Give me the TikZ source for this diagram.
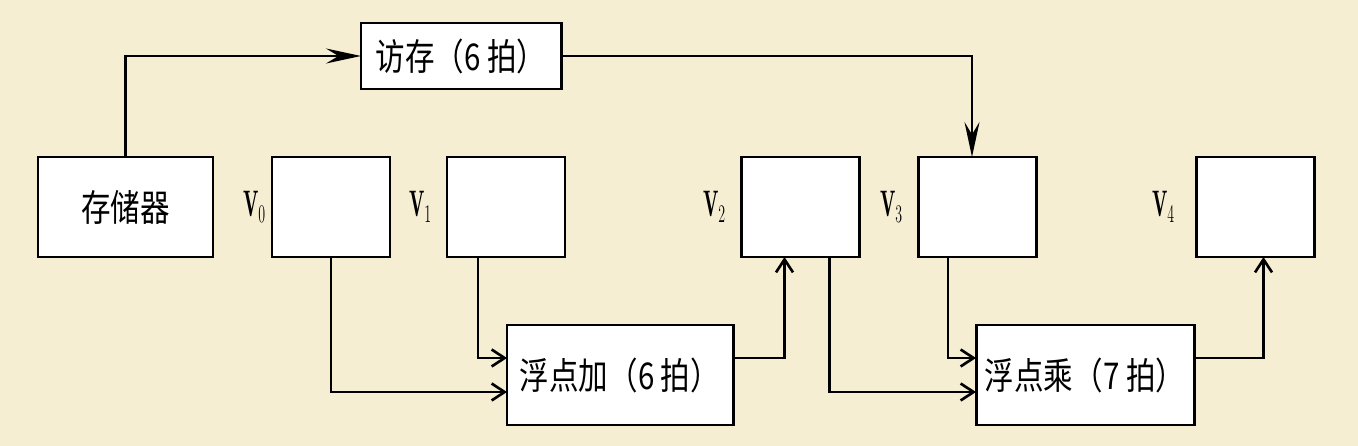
\documentclass[tikz,border=0pt]{standalone}
\usepackage{fontspec}
\newfontfamily\cjkfont[FakeStretch=0.8]{Noto Sans CJK SC}
\usetikzlibrary{arrows.meta, positioning}
\definecolor{bgcream}{RGB}{246,238,211}

\begin{document}
\begin{tikzpicture}[
    box/.style={rectangle, draw, line width=1.7pt, fill=white, minimum height=2cm, inner sep=0pt, outer sep=0pt, font=\cjkfont\fontsize{21}{24}\selectfont},
    reg/.style={box, minimum width=2.36cm},
    vlab/.style={inner sep=0pt, font=\fontsize{21}{24}\selectfont},
    link/.style={line width=1.5pt},
    arr/.style={link, -{Stealth[length=7mm, width=3mm, inset=2.5mm]}},
    arrb/.style={link, -{Straight Barb[length=2.6mm, width=3.4mm]}},
  ]
  \useasboundingbox (0,0) rectangle (27.16,8.92);
  \fill[bgcream] (0,0) rectangle (27.16,8.92);

  % 存储器和向量寄存器
  \node[box, minimum width=3.5cm] (mem) at (2.51,4.78) {存储器};
  \node[reg, right=1.18cm of mem] (v0) {};
  \node[reg, right=1.14cm of v0] (v1) {};
  \node[reg, right=3.52cm of v1] (v2) {};
  \node[reg, right=1.18cm of v2] (v3) {};
  \node[reg, right=3.2cm of v3] (v4) {};
  \node[vlab, left=0.12cm of v0] (lv0) {\scalebox{0.55}[1]{$\mathbf{V}_0$}};
  \node[vlab, left=0.3cm of v1] (lv1) {\scalebox{0.55}[1]{$\mathbf{V}_1$}};
  \node[vlab, left=0.3cm of v2] (lv2) {\scalebox{0.55}[1]{$\mathbf{V}_2$}};
  \node[vlab, left=0.3cm of v3] (lv3) {\scalebox{0.55}[1]{$\mathbf{V}_3$}};
  \node[vlab, left=0.42cm of v4] (lv4) {\scalebox{0.55}[1]{$\mathbf{V}_4$}};

  % 功能部件
  \node[box, minimum width=4cm, minimum height=1.32cm] (fc) at (9.22,7.8) {访存（6 拍）};
  \node[box, minimum width=4.52cm] (add) at (12.4,1.42) {浮点加（6 拍）};
  \node[box, minimum width=4.36cm] (mul) at (21.7,1.42) {浮点乘（7 拍）};

  % 连线
  \draw[arr] (mem.north) |- (fc.west);
  \draw[arr] (fc.east) -| ([xshift=-1mm]v3.north);
  \draw[arrb] (v0.south) |- ([yshift=-0.34cm]add.west);
  \draw[arrb] ([xshift=-0.56cm]v1.south) |- ([yshift=0.34cm]add.west);
  \draw[arrb] ([yshift=0.34cm]add.east) -| ([xshift=-0.31cm]v2.south);
  \draw[arrb] ([xshift=0.59cm]v2.south) |- ([yshift=-0.34cm]mul.west);
  \draw[arrb] ([xshift=-0.58cm]v3.south) |- ([yshift=0.34cm]mul.west);
  \draw[arrb] ([yshift=0.34cm]mul.east) -| ([xshift=0.17cm]v4.south);
\end{tikzpicture}
\end{document}
